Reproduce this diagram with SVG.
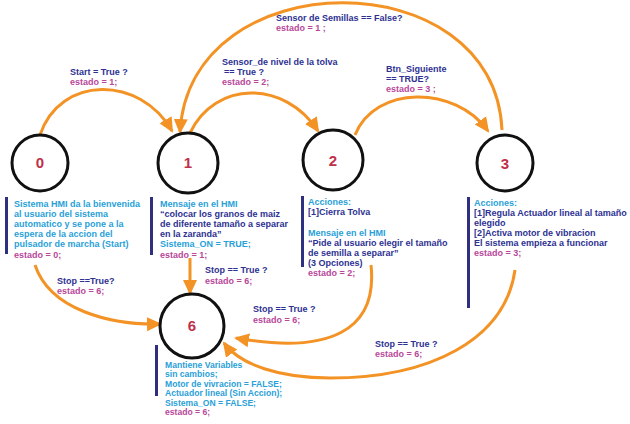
<svg xmlns="http://www.w3.org/2000/svg" width="630" height="424" viewBox="0 0 630 424">
<defs>
<marker id="ah" markerUnits="userSpaceOnUse" markerWidth="16" markerHeight="16" refX="13" refY="8" orient="auto" viewBox="0 0 16 16">
<path d="M0,1 L15,8 L0,15 z" fill="#f39325"/>
</marker>
</defs>
<style>
text{font-family:"Liberation Sans",Arial,sans-serif;font-weight:bold;font-size:9px}
.c{fill:#2a9fd8}
.n{fill:#2e3192}
.m{fill:#b8489a}
.num{fill:#c0304a;font-size:15px;text-anchor:middle}
.st{fill:none;stroke:#111;stroke-width:3}
.bar{fill:#2e2f80}
.arr{fill:none;stroke:#f39325;stroke-width:3;marker-end:url(#ah)}
.s6{font-size:8.6px}
</style>
<rect width="630" height="424" fill="#ffffff"/>
<g id="connectors">
<path class="arr" d="M40,135 C60,75 140,75 172,131"/>
<path class="arr" d="M190,133 C215,80 285,80 318,131"/>
<path class="arr" d="M502,130 C495,-40 190,-40 180,132"/>
<path class="arr" d="M355,135 C375,85 455,85 488,131"/>
<path class="arr" d="M35,265 C50,310 110,325 160,324"/>
<path class="arr" d="M190,258 L190,293"/>
<path class="arr" d="M371,265 C378,330 330,355 236,338"/>
<path class="arr" d="M515,270 C505,340 430,378 330,378 C280,378 240,365 224,343"/>
<text x="70" y="75" class="n">Start = True ?</text>
<text x="70" y="85" class="m">estado = 1;</text>
<text x="222" y="65" class="n">Sensor_de nivel de la tolva</text>
<text x="224" y="75" class="n"> == True ?</text>
<text x="222" y="85" class="m">estado = 2;</text>
<text x="276" y="21" class="n">Sensor de Semillas == False?</text>
<text x="276" y="31" class="m">estado = 1 ;</text>
<text x="386" y="72" class="n">Btn_Siguiente</text>
<text x="386" y="82" class="n">== TRUE?</text>
<text x="386" y="92" class="m">estado = 3 ;</text>
<text x="57" y="284" class="n">Stop ==True?</text>
<text x="57" y="294" class="m">estado = 6;</text>
<text x="205" y="273" class="n">Stop == True ?</text>
<text x="205" y="284" class="m">estado = 6;</text>
<text x="253" y="312" class="n">Stop == True ?</text>
<text x="253" y="323" class="m">estado = 6;</text>
<text x="375" y="347" class="n">Stop == True ?</text>
<text x="375" y="357" class="m">estado = 6;</text>
</g>
<g id="node0">
<circle class="st" cx="40" cy="163" r="28"/>
<text x="40" y="168" class="num">0</text>
<rect class="bar" x="5" y="197" width="3" height="57"/>
<text x="14" y="207" class="c">Sistema HMI da la bienvenida</text>
<text x="14" y="217" class="c">al usuario del sistema</text>
<text x="14" y="227" class="c">automatico y se pone a la</text>
<text x="14" y="237" class="c">espera de la accion del</text>
<text x="14" y="247" class="c">pulsador de marcha (Start)</text>
<text x="14" y="258" class="m">estado = 0;</text>
</g>
<g id="node1">
<circle class="st" cx="188" cy="163" r="30"/>
<text x="188" y="168" class="num">1</text>
<rect class="bar" x="150" y="197" width="3" height="58"/>
<text x="160" y="207" class="c">Mensaje en el HMI</text>
<text x="160" y="217" class="n">“colocar los granos de maiz</text>
<text x="160" y="227" class="n">de diferente tamaño a separar</text>
<text x="160" y="237" class="n">en la zaranda”</text>
<text x="160" y="247" class="c">Sistema_ON = TRUE;</text>
<text x="160" y="258" class="m">estado = 1;</text>
</g>
<g id="node2">
<circle class="st" cx="333" cy="160" r="30"/>
<text x="333" y="166" class="num">2</text>
<rect class="bar" x="301" y="196" width="3" height="71"/>
<text x="308" y="205" class="c">Acciones:</text>
<text x="308" y="215" class="n">[1]Cierra Tolva</text>
<text x="308" y="236" class="c">Mensaje en el HMI</text>
<text x="308" y="246" class="n">“Pide al usuario elegir el tamaño</text>
<text x="308" y="256" class="n">de semilla a separar”</text>
<text x="308" y="266" class="n">(3 Opciones)</text>
<text x="308" y="276" class="m">estado = 2;</text>
</g>
<g id="node3">
<circle class="st" cx="505" cy="163" r="28"/>
<text x="505" y="169" class="num">3</text>
<rect class="bar" x="467" y="197" width="3" height="111"/>
<text x="474" y="206" class="c">Acciones:</text>
<text x="474" y="216" class="n">[1]Regula Actuador lineal al tamaño</text>
<text x="474" y="226" class="n">elegido</text>
<text x="474" y="236" class="n">[2]Activa motor de vibracion</text>
<text x="474" y="246" class="n">El sistema empieza a funcionar</text>
<text x="474" y="256" class="m">estado = 3;</text>
</g>
<g id="node6">
<circle class="st" cx="192" cy="326" r="32"/>
<text x="192" y="331" class="num">6</text>
<rect class="bar" x="155" y="345" width="3" height="51"/>
<text x="165" y="368" class="c s6">Mantiene Variables</text>
<text x="165" y="377" class="c s6">sin cambios;</text>
<text x="165" y="387" class="c s6">Motor de vivracion = FALSE;</text>
<text x="165" y="396" class="c s6">Actuador lineal (Sin Accion);</text>
<text x="165" y="406" class="c s6">Sistema_ON = FALSE;</text>
<text x="165" y="415" class="m s6">estado = 6;</text>
</g>
</svg>
